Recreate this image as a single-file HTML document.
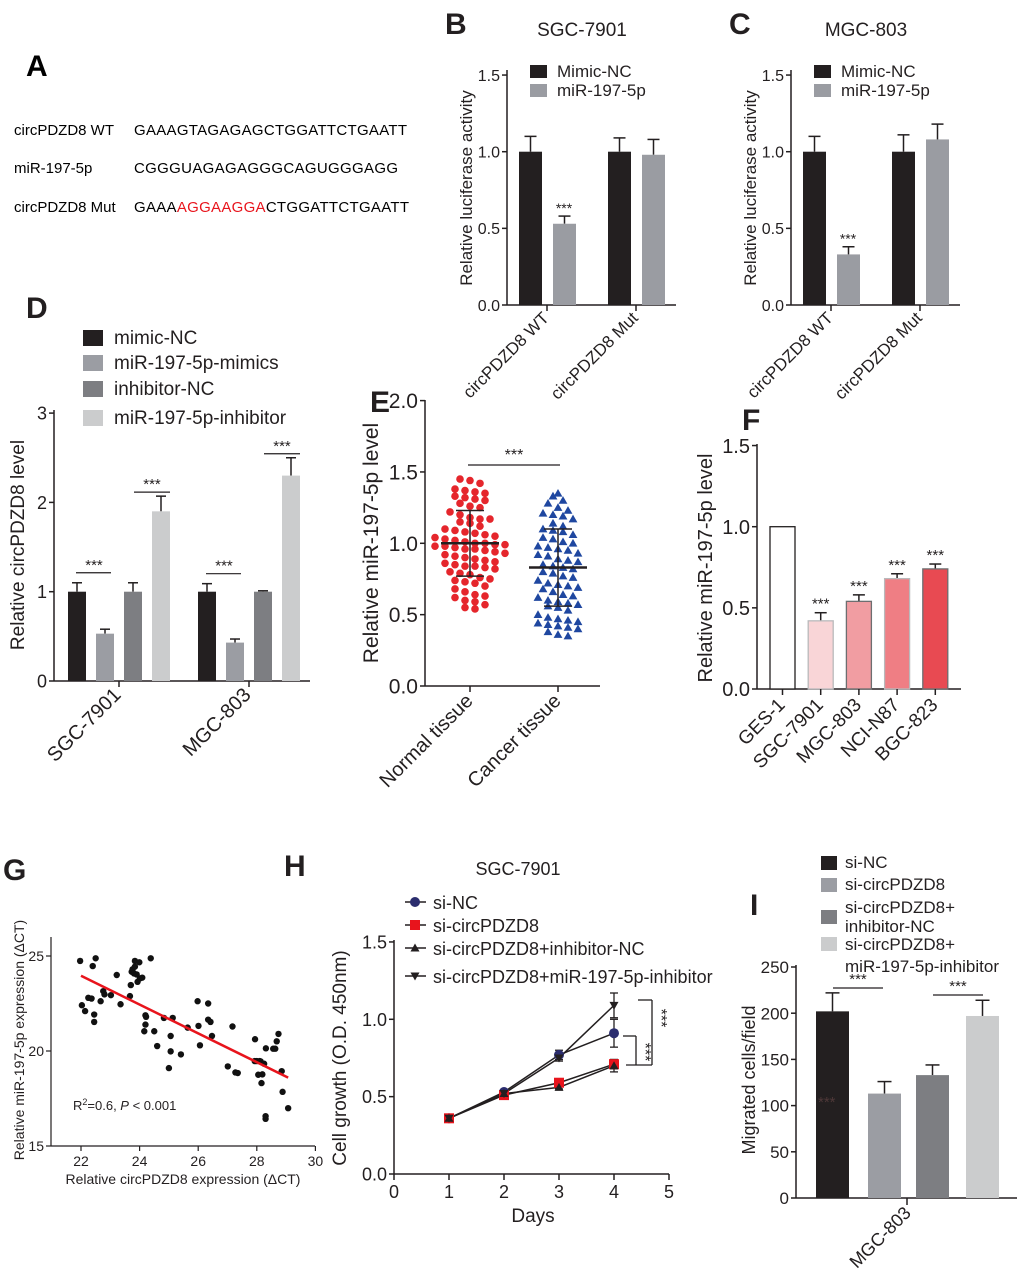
<!DOCTYPE html>
<html><head><meta charset="utf-8"><style>
html,body{margin:0;padding:0;background:#fff;}
svg{display:block;font-family:"Liberation Sans",Arial,sans-serif;}
</style></head><body>
<svg id="fig" width="1020" height="1277" viewBox="0 0 1020 1277" xmlns="http://www.w3.org/2000/svg">
<g font-size="15">
<text x="26" y="76" font-size="30" font-weight="bold">A</text>
<text x="14" y="135">circPDZD8 WT</text>
<text x="134" y="135" textLength="273">GAAAGTAGAGAGCTGGATTCTGAATT</text>
<text x="14" y="173">miR-197-5p</text>
<text x="134" y="173" textLength="264">CGGGUAGAGAGGGCAGUGGGAGG</text>
<text x="14" y="212">circPDZD8 Mut</text>
<text x="134" y="212" textLength="275">GAAA<tspan fill="#e8141c">AGGAAGGA</tspan>CTGGATTCTGAATT</text>
</g>
</svg>
<script>
// ---- data ----
const lucCats=["circPDZD8 WT","circPDZD8 Mut"];
const lucSeries=["Mimic-NC","miR-197-5p"];
const bMimic=[1.0,1.0], bMir=[0.53,0.98], bMimicErr=[0.10,0.09], bMirErr=[0.05,0.10];
const cMimic=[1.0,1.0], cMir=[0.33,1.08], cMimicErr=[0.10,0.11], cMirErr=[0.05,0.10];
const lucTicks=[0,0.5,1.0,1.5];
const dCats=["SGC-7901","MGC-803"];
const dSeries=["mimic-NC","miR-197-5p-mimics","inhibitor-NC","miR-197-5p-inhibitor"];
const dVals=[[1.0,1.0],[0.53,0.43],[1.0,1.0],[1.9,2.3]];
const dErrs=[[0.10,0.09],[0.05,0.04],[0.10,0.01],[0.17,0.20]];
const dTicks=[0,1,2,3];
const eCats=["Normal tissue","Cancer tissue"];
const eNormal=[1.45,1.44,1.42,1.38,1.37,1.36,1.35,1.33,1.32,1.31,1.30,1.28,1.26,1.25,1.22,1.20,1.18,1.17,1.17,1.15,1.14,1.12,1.10,1.09,1.08,1.07,1.06,1.05,1.04,1.03,1.02,1.01,1.00,1.00,0.99,0.99,0.98,0.98,0.97,0.96,0.96,0.95,0.94,0.93,0.92,0.91,0.90,0.89,0.88,0.87,0.86,0.85,0.84,0.84,0.83,0.82,0.80,0.79,0.78,0.76,0.75,0.74,0.73,0.72,0.70,0.68,0.66,0.64,0.63,0.62,0.60,0.59,0.57,0.55,0.54];
const eCancer=[1.35,1.33,1.30,1.28,1.25,1.23,1.21,1.20,1.19,1.17,1.14,1.12,1.10,1.09,1.08,1.06,1.04,1.03,1.01,1.00,0.98,0.97,0.96,0.95,0.93,0.92,0.91,0.89,0.88,0.87,0.85,0.84,0.83,0.82,0.80,0.79,0.77,0.76,0.74,0.72,0.71,0.70,0.69,0.68,0.66,0.64,0.63,0.62,0.60,0.59,0.58,0.57,0.56,0.55,0.53,0.50,0.48,0.47,0.46,0.45,0.44,0.43,0.42,0.41,0.40,0.38,0.36,0.35];
const eMeans=[1.00,0.83], eSD=[0.23,0.27];
const eTicks=[0,0.5,1.0,1.5,2.0];
const fCats=["GES-1","SGC-7901","MGC-803","NCI-N87","BGC-823"];
const fVals=[1.0,0.42,0.54,0.68,0.74];
const fErrs=[0,0.05,0.04,0.03,0.03];
const fTicks=[0,0.5,1.0,1.5];
const gX=[21.97,22.03,22.14,22.25,22.36,22.40,22.45,22.45,22.50,22.67,22.76,22.80,23.02,23.22,23.35,23.67,23.70,23.73,23.76,23.81,23.84,23.84,23.90,23.93,23.99,24.01,24.09,24.16,24.20,24.22,24.20,24.38,24.50,24.60,24.83,25.00,25.06,25.06,25.13,25.41,25.64,25.98,26.01,26.06,26.34,26.34,26.42,26.47,27.01,27.17,27.27,27.35,27.94,27.93,28.00,28.05,28.10,28.13,28.16,28.19,28.25,28.31,28.56,28.63,28.68,28.74,28.85,28.88,28.30,28.30,29.07];
const gY=[24.74,22.41,22.10,22.80,22.76,24.47,21.92,21.53,24.88,22.62,23.15,22.98,22.94,24.00,22.46,22.89,23.47,24.17,24.30,24.08,24.74,24.44,24.03,23.64,24.67,23.82,23.86,21.04,21.88,21.80,21.39,24.88,21.04,20.26,21.74,19.10,20.79,19.98,21.74,19.82,21.23,22.62,21.32,20.30,22.50,21.65,21.53,20.79,19.19,21.29,18.87,18.84,20.62,19.47,19.47,18.75,19.47,19.45,18.31,18.77,19.33,20.14,20.12,20.12,20.51,20.90,18.94,17.85,16.57,16.43,16.99];
const gFitX=[22.0,29.07], gFitY=[23.96,18.6];
const gXTicks=[22,24,26,28,30], gYTicks=[15,20,25];
const hDays=[1,2,3,4];
const hSeries=["si-NC","si-circPDZD8","si-circPDZD8+inhibitor-NC","si-circPDZD8+miR-197-5p-inhibitor"];
const hVals=[[0.36,0.53,0.77,0.91],[0.36,0.51,0.59,0.71],[0.36,0.52,0.56,0.70],[0.36,0.52,0.75,1.09]];
const hErrs=[[0.01,0.01,0.03,0.09],[0.01,0.01,0.02,0.03],[0.01,0.01,0.01,0.04],[0.01,0.01,0.02,0.08]];
const hXTicks=[0,1,2,3,4,5], hYTicks=[0,0.5,1.0,1.5];
const iSeries=["si-NC","si-circPDZD8","si-circPDZD8+ inhibitor-NC","si-circPDZD8+ miR-197-5p-inhibitor"];
const iVals=[202,113,133,197];
const iErrs=[20,13,11,17];
const iTicks=[0,50,100,150,200,250];

// ---- helpers ----
const svg=document.getElementById('fig');
const NS='http://www.w3.org/2000/svg';
function mk(tag,attrs,parent){const e=document.createElementNS(NS,tag);for(const k in attrs)e.setAttribute(k,attrs[k]);(parent||svg).appendChild(e);return e;}
function grp(name){const g=mk('g',{});return g;}
function ln(p,x1,y1,x2,y2,c,w){return mk('line',{x1:x1,y1:y1,x2:x2,y2:y2,stroke:c||'#231f20','stroke-width':w||1.5},p);}
function tx(p,x,y,s,size,anchor,rot,extra){const a={x:x,y:y,'font-size':size,'text-anchor':anchor||'start',fill:'#231f20'};if(rot)a.transform='rotate('+rot+' '+x+' '+y+')';if(extra)for(const k in extra)a[k]=extra[k];const t=mk('text',a,p);t.textContent=s;return t;}
function fmt(v,d){return d?v.toFixed(d):String(v);}
function yaxis(p,x,yTop,yBot,ticks,yf,size,dec){ln(p,x,yTop,x,yBot);ticks.forEach(t=>{const y=yf(t);ln(p,x-5,y,x,y);tx(p,x-7,y+size*0.36,fmt(t,dec),size,'end');});}
function errbar(p,cx,yTop,yErr,hw,c){ln(p,cx,yTop,cx,yErr,c||'#231f20',1.5);ln(p,cx-hw,yErr,cx+hw,yErr,c||'#231f20',1.5);}

// ---- panels B & C ----
function luc(ox,letter,title,mim,mir,mimE,mirE,key){
  const g=grp('panel-'+key);
  const y=v=>305-v*153.3;
  tx(g,ox-62,34,letter,30,'start',0,{'font-weight':'bold'});
  tx(g,ox+75,36,title,19,'middle');
  yaxis(g,ox,70,305,lucTicks,y,16,1);
  ln(g,ox,305,ox+169,305);
  tx(g,ox-35,188,'Relative luciferase activity',17,'middle',-90);
  const cols=['#231f20','#9a9ca2'];
  lucCats.forEach((c,i)=>{
    const gx=ox+12+i*89;
    [[mim,mimE],[mir,mirE]].forEach((s,j)=>{
      const x=gx+j*34, v=s[0][i], e=s[1][i];
      errbar(g,x+11.5,y(v),y(v+e),6);
      const r=mk('rect',{x:x,y:y(v),width:23,height:305-y(v),fill:cols[j]},g);
      
      
    });
    const tcx=gx+28;
    ln(g,tcx,305,tcx,311);
    tx(g,tcx+3,319,c,17,'end',-45);
  });
  tx(g,ox+57,y(mir[0]+mirE[0])-3,'***',14,'middle');
  lucSeries.forEach((s,j)=>{
    const r=mk('rect',{x:ox+23,y:65+j*19,width:17,height:13,fill:cols[j]},g);
    
    
    tx(g,ox+50,77+j*19,s,17);
  });
}
luc(507,'B','SGC-7901',bMimic,bMir,bMimicErr,bMirErr,'b');
luc(791,'C','MGC-803',cMimic,cMir,cMimicErr,cMirErr,'c');

// ---- panel D ----
(function(){
  const g=grp('panel-d');const ox=54;const y=v=>681-v*89.3;
  tx(g,26,318,'D',30,'start',0,{'font-weight':'bold'});
  yaxis(g,ox,410,681,dTicks,y,18,0);
  ln(g,ox,681,310,681);
  tx(g,24,545,'Relative circPDZD8 level',19,'middle',-90);
  const cols=['#231f20','#9b9da3','#7d7e82','#cbcccd'];
  dCats.forEach((c,i)=>{
    const gx=68+i*130;
    dSeries.forEach((s,j)=>{
      const x=gx+j*28, v=dVals[j][i], e=dErrs[j][i];
      errbar(g,x+9,y(v),y(v+e),5);
      const r=mk('rect',{x:x,y:y(v),width:18,height:681-y(v),fill:cols[j]},g);
      
      
    });
    const tcx=gx+51;
    ln(g,tcx,681,tcx,687);
    tx(g,tcx+3,696,c,20,'end',-45);
    const s1=Math.max(dVals[0][i]+dErrs[0][i],dVals[1][i]+dErrs[1][i]);
    const ly1=y(s1)-10; ln(g,gx+8,ly1,gx+43,ly1,'#231f20',1.2); tx(g,gx+26,ly1-3,'***',15,'middle');
    const s2=dVals[3][i]+dErrs[3][i];
    const ly2=y(s2)-4; ln(g,gx+66,ly2,gx+102,ly2,'#231f20',1.2); tx(g,gx+84,ly2-3,'***',15,'middle');
  });
  dSeries.forEach((s,j)=>{
    const ry=[330,355,381,410][j];
    const r=mk('rect',{x:83,y:ry,width:20,height:16,fill:cols[j]},g);
    
    
    tx(g,114,ry+14,s,19);
  });
})();

// ---- panel E ----
(function(){
  const g=grp('panel-e');const ox=425;const y=v=>686-v*142.7;
  tx(g,370,412,'E',30,'start',0,{'font-weight':'bold'});
  yaxis(g,ox,400,686,eTicks,y,21,1);
  ln(g,ox,686,600,686);
  tx(g,378,543,'Relative miR-197-5p level',21,'middle',-90);
  const cx=[470,558];
  eCats.forEach((c,i)=>{ln(g,cx[i],686,cx[i],692);tx(g,cx[i]+4,702,c,20,'end',-45);});
  function swarm(vals,center,kind,color){
    const rows={};
    vals.forEach((v,k)=>{
      const key=Math.round(v/0.06);rows[key]=rows[key]||[];rows[key].push(v);
    });
    Object.keys(rows).forEach(key=>{
      const arr=rows[key];const n=arr.length;
      arr.forEach((v,k)=>{
        const off=(k-(n-1)/2)*10;const px=center+off, py=y(v);
        let m;
        if(kind==='c'){m=mk('circle',{cx:px,cy:py,r:3.8,fill:color},g);}
        else{m=mk('polygon',{points:(px)+','+(py-4.4)+' '+(px-4.4)+','+(py+3.3)+' '+(px+4.4)+','+(py+3.3),fill:color},g);}
        
        
      });
    });
  }
  swarm(eNormal,cx[0],'c','#e5262c');
  swarm(eCancer,cx[1],'t','#1f47a0');
  [0,1].forEach(i=>{
    const m=eMeans[i],s=eSD[i];
    ln(g,cx[i]-29,y(m),cx[i]+29,y(m),'#231f20',2.5);
    ln(g,cx[i],y(m-s),cx[i],y(m+s),'#231f20',1.5);
    ln(g,cx[i]-14,y(m+s),cx[i]+14,y(m+s),'#231f20',1.5);
    ln(g,cx[i]-14,y(m-s),cx[i]+14,y(m-s),'#231f20',1.5);
  });
  ln(g,468,465,560,465,'#231f20',1.2);
  tx(g,514,460,'***',16,'middle');
})();

// ---- panel F ----
(function(){
  const g=grp('panel-f');const ox=757;const y=v=>689-v*162.3;
  tx(g,742,430,'F',30,'start',0,{'font-weight':'bold'});
  yaxis(g,ox,444,689,fTicks,y,20,1);
  ln(g,ox,689,961,689);
  tx(g,712,568,'Relative miR-197-5p level',20,'middle',-90);
  const fills=['#ffffff','#f9d5d7','#f19da2','#ef7e84','#e84a52'];
  const strokes=['#231f20','#b9b9bb','#6d6e70','#b9b9bb','#6d6e70'];
  fCats.forEach((c,i)=>{
    const x=770+i*38.2, v=fVals[i], e=fErrs[i];
    if(e>0){errbar(g,x+12.5,y(v),y(v+e),6);tx(g,x+12.5,y(v+e)-4,'***',15,'middle');}
    const r=mk('rect',{x:x,y:y(v),width:25,height:689-y(v),fill:fills[i],stroke:strokes[i],'stroke-width':1.3},g);
    
    
    ln(g,x+12.5,689,x+12.5,695);
    tx(g,x+16,706,c,19,'end',-45);
  });
})();

// ---- panel G ----
(function(){
  const g=grp('panel-g');
  const x=v=>81+(v-22)*29.3, y=v=>1146-(v-15)*19.0;
  tx(g,3,880,'G',30,'start',0,{'font-weight':'bold'});
  ln(g,51,937,51,1146,'#231f20',1.2);ln(g,51,1146,315,1146,'#231f20',1.2);
  gYTicks.forEach(t=>{ln(g,46,y(t),51,y(t),'#231f20',1.2);tx(g,44,y(t)+5,String(t),14,'end');});
  gXTicks.forEach(t=>{ln(g,x(t),1146,x(t),1151,'#231f20',1.2);tx(g,x(t),1166,String(t),14,'middle');});
  tx(g,183,1184,'Relative circPDZD8 expression (\u0394CT)',14,'middle');
  tx(g,24,1040,'Relative miR-197-5p expression (\u0394CT)',14,'middle',-90);
  gX.forEach((v,k)=>{const c=mk('circle',{cx:x(v),cy:y(gY[k]),r:3.2,fill:'#111'},g);
    
    });
  const fl=ln(g,x(gFitX[0]),y(gFitY[0]),x(gFitX[1]),y(gFitY[1]),'#e8141c',2.5);
  
  const t=tx(g,73,1110,'',13);
  t.innerHTML='R<tspan dy="-5" font-size="9">2</tspan><tspan dy="5">=0.6, </tspan><tspan font-style="italic">P</tspan> &lt; 0.001';
})();

// ---- panel H ----
(function(){
  const g=grp('panel-h');
  const x=d=>394+d*55, y=v=>1174-v*154.7;
  tx(g,284,876,'H',30,'start',0,{'font-weight':'bold'});
  tx(g,518,875,'SGC-7901',18,'middle');
  yaxis(g,394,940,1174,hYTicks,y,18,1);
  ln(g,394,1174,669,1174);
  hXTicks.forEach(t=>{ln(g,x(t),1174,x(t),1180);tx(g,x(t),1198,String(t),18,'middle');});
  tx(g,533,1222,'Days',19,'middle');
  tx(g,346,1058,'Cell growth (O.D. 450nm)',19,'middle',-90);
  const mcol=['#2b2d6e','#e8141c','#231f20','#231f20'];
  function marker(k,px,py){
    let m;
    if(k===0)m=mk('circle',{cx:px,cy:py,r:5,fill:mcol[0]},g);
    else if(k===1)m=mk('rect',{x:px-5,y:py-5,width:10,height:10,fill:mcol[1]},g);
    else if(k===2)m=mk('polygon',{points:px+','+(py-4.5)+' '+(px-4.5)+','+(py+3.5)+' '+(px+4.5)+','+(py+3.5),fill:mcol[2]},g);
    else m=mk('polygon',{points:px+','+(py+4.5)+' '+(px-4.5)+','+(py-3.5)+' '+(px+4.5)+','+(py-3.5),fill:mcol[3]},g);
    
    
  }
  hSeries.forEach((s,k)=>{
    const pts=hDays.map((d,i)=>x(d)+','+y(hVals[k][i])).join(' ');
    const pl=mk('polyline',{points:pts,fill:'none',stroke:'#231f20','stroke-width':1.5},g);
    
    
    hDays.forEach((d,i)=>{const v=hVals[k][i],e=hErrs[k][i];
      ln(g,x(d),y(v-e),x(d),y(v+e),'#231f20',1.3);ln(g,x(d)-4,y(v+e),x(d)+4,y(v+e),'#231f20',1.3);ln(g,x(d)-4,y(v-e),x(d)+4,y(v-e),'#231f20',1.3);});
  });
  hSeries.forEach((s,k)=>{hDays.forEach((d,i)=>marker(k,x(d),y(hVals[k][i])));});
  hSeries.forEach((s,k)=>{
    const ly=[902,925,948,976][k];
    ln(g,405,ly,426,ly,'#231f20',1.5);marker(k,415,ly);
    tx(g,433,ly+7,s,18);
  });
  ln(g,638,1000,652,1000,'#231f20',1.3);ln(g,652,1000,652,1065,'#231f20',1.3);ln(g,626,1065,652,1065,'#231f20',1.3);
  ln(g,623,1036,636,1036,'#231f20',1.3);ln(g,636,1036,636,1065,'#231f20',1.3);
  tx(g,656,1018,'***',16,'middle',90);
  tx(g,640,1052,'***',16,'middle',90);
})();

// ---- panel I ----
(function(){
  const g=grp('panel-i');const ox=796;const y=v=>1198-v*0.924;
  tx(g,750,915,'I',30,'start',0,{'font-weight':'bold'});
  yaxis(g,ox,965,1198,iTicks,y,17,0);
  ln(g,ox,1198,1017,1198);
  tx(g,755,1080,'Migrated cells/field',18,'middle',-90);
  const cols=['#231f20','#9b9da3','#7d7e82','#cbcccd'];
  const xs=[816,868,916,966];
  iVals.forEach((v,j)=>{
    errbar(g,xs[j]+16.5,y(v),y(v+iErrs[j]),7);
    const r=mk('rect',{x:xs[j],y:y(v),width:33,height:1198-y(v),fill:cols[j]},g);
    
    
  });
  ln(g,907,1198,907,1205);
  tx(g,912,1214,'MGC-803',18,'end',-45);
  ln(g,833,988,883,988,'#231f20',1.2);tx(g,858,984,'***',15,'middle');
  ln(g,933,995,983,995,'#231f20',1.2);tx(g,958,991,'***',15,'middle');
  tx(g,818,1107,'***',15,'start',0,{fill:'#6a4a4a','fill-opacity':'0.6'});
  const sw=[856,878,910,937];
  const leg=[[['si-NC'],[868]],[['si-circPDZD8'],[890]],[['si-circPDZD8+','inhibitor-NC'],[913,932]],[['si-circPDZD8+','miR-197-5p-inhibitor'],[950,972]]];
  leg.forEach((L,j)=>{
    const r=mk('rect',{x:821,y:sw[j],width:16,height:14,fill:cols[j]},g);
    
    
    L[0].forEach((s,q)=>tx(g,845,L[1][q],s,17));
  });
})();
</script>
</body></html>
